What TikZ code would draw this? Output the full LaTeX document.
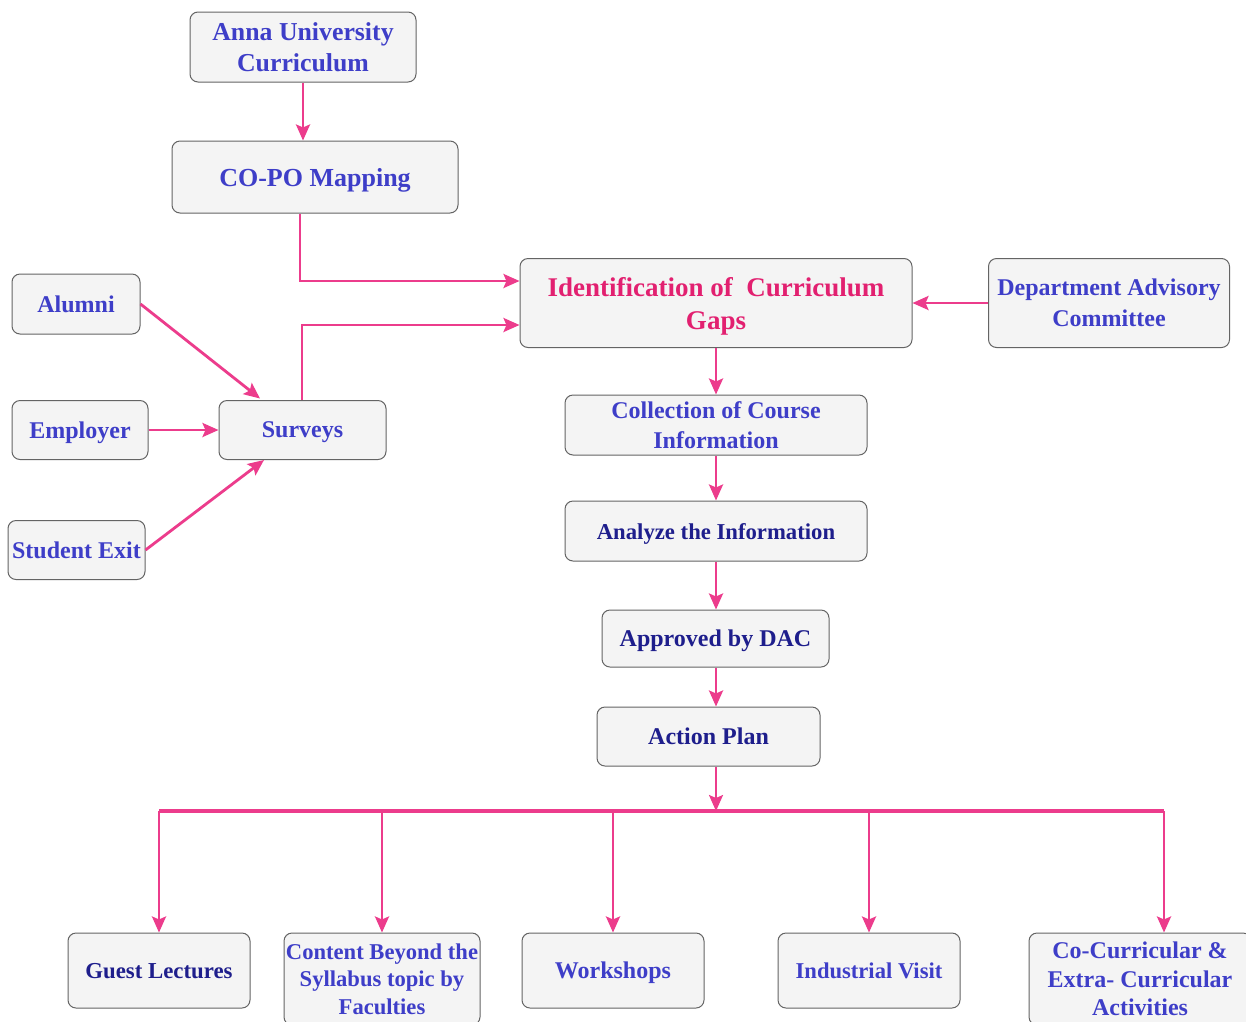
\documentclass[tikz,border=0pt]{standalone}
\usepackage{fontspec}
\setmainfont{Liberation Serif}
\usetikzlibrary{arrows.meta}
\definecolor{flow}{RGB}{236,60,140}
\definecolor{gaptext}{RGB}{226,32,112}
\definecolor{labelblue}{RGB}{62,62,200}
\definecolor{navy}{RGB}{30,30,140}
\definecolor{boxfill}{RGB}{244,244,244}
\definecolor{boxline}{RGB}{100,100,100}
\tikzset{
  box/.style={draw=boxline, line width=1pt, fill=boxfill, rounded corners=8pt,
    align=center, inner sep=0pt, font=\bfseries\fontsize{24}{29}\selectfont,
    text=labelblue, text depth=0pt},
  dark/.style={text=navy},
  link/.style={draw=flow, line width=2.8pt,
    -{Stealth[length=16pt,width=14pt,inset=3pt]}},
  bus/.style={draw=flow, line width=3.2pt}
}
\begin{document}
\begin{tikzpicture}[x=1pt,y=-1pt]
\clip (0,0) rectangle (1246,1021);
\fill[white] (0,0) rectangle (1246,1021);

% top branch
\node[box, minimum width=226pt, minimum height=70pt,
  font=\bfseries\fontsize{25.8}{31}\selectfont] (anna) at (303,47)
  {Anna University\\Curriculum};
\node[box, minimum width=286pt, minimum height=72pt,
  font=\bfseries\fontsize{26}{30}\selectfont] (copo) at (315,177) {CO-PO Mapping};

% central gap identification and the advisory committee
\node[box, minimum width=392pt, minimum height=89pt, text=gaptext,
  font=\bfseries\fontsize{27}{33}\selectfont] (gaps) at (716,303)
  {Identification of\ \ Curriculum\\Gaps};
\node[box, minimum width=241pt, minimum height=89pt,
  font=\bfseries\fontsize{24}{31}\selectfont] (dac) at (1109,303)
  {Department Advisory\\Committee};

% survey sources
\node[box, minimum width=128pt, minimum height=60pt] (alumni) at (76,304) {Alumni};
\node[box, minimum width=136pt, minimum height=59pt] (employer) at (80,430) {Employer};
\node[box, minimum width=137pt, minimum height=59pt] (exit) at (76.5,550) {Student Exit};
\node[box, minimum width=167pt, minimum height=59pt] (surveys) at (302.5,430) {Surveys};

% main vertical chain
\node[box, minimum width=302pt, minimum height=60pt,
  font=\bfseries\fontsize{24}{30}\selectfont] (collect) at (716,425)
  {Collection of Course\\Information};
\node[box, dark, minimum width=302pt, minimum height=60pt,
  font=\bfseries\fontsize{22.7}{28}\selectfont] (analyze) at (716,531)
  {Analyze the Information};
\node[box, dark, minimum width=227pt, minimum height=57pt] (approved) at (715.5,638.5)
  {Approved by DAC};
\node[box, dark, minimum width=223pt, minimum height=59pt] (action) at (708.5,736.5)
  {Action Plan};

% outcomes
\node[box, dark, minimum width=182pt, minimum height=75pt,
  font=\bfseries\fontsize{22.8}{28}\selectfont] (guest) at (159,970.5) {Guest Lectures};
\node[box, minimum width=196pt, minimum height=92pt,
  font=\bfseries\fontsize{22.6}{27.5}\selectfont] (beyond) at (382,979)
  {Content Beyond the\\Syllabus topic by\\Faculties};
\node[box, minimum width=182pt, minimum height=75pt] (workshops) at (613,970.5) {Workshops};
\node[box, minimum width=182pt, minimum height=75pt,
  font=\bfseries\fontsize{22.6}{28}\selectfont] (visit) at (869,970.5) {Industrial Visit};
\node[box, minimum width=222pt, minimum height=92pt,
  font=\bfseries\fontsize{24}{28.5}\selectfont] (cocurr) at (1140,979)
  {Co-Curricular \&\\Extra- Curricular\\Activities};

% connectors
\draw[link] (anna.south -| 303,0) -- (copo.north -| 303,0);
\draw[link] (copo.south -| 300,0) |- (gaps.west |- 0,281);
\draw[link] (surveys.north -| 302,0) |- (gaps.west |- 0,325);
\draw[link] (alumni.east) -- (260,398.5);
\draw[link] (employer) -- (surveys);
\draw[link] (exit.east) -- (264,460);
\draw[link] (dac) -- (gaps);
\draw[link] (gaps.south -| 716,0) -- (collect.north -| 716,0);
\draw[link] (collect.south -| 716,0) -- (analyze.north -| 716,0);
\draw[link] (analyze.south -| 716,0) -- (approved.north -| 716,0);
\draw[link] (approved.south -| 716,0) -- (action.north -| 716,0);

\coordinate (hub) at (716,811);
\draw[link, line width=2.2pt] (action.south -| 716,0) -- (hub);
\draw[bus] (159,811) -- (1164,811);
\draw[link] (159,811) -- (guest.north);
\draw[link] (382,811) -- (beyond.north);
\draw[link] (613,811) -- (workshops.north);
\draw[link] (869,811) -- (visit.north);
\draw[link] (1164,811) -- (cocurr.north -| 1164,0);
\end{tikzpicture}
\end{document}
